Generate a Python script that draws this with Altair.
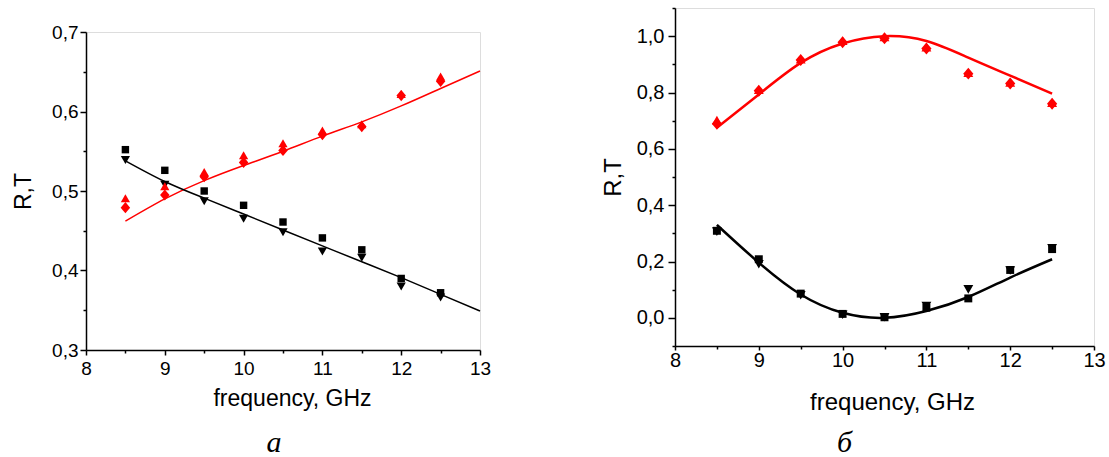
import altair as alt
import pandas as pd

# ---------------- data ----------------
freq = [8.5, 9.0, 9.5, 10.0, 10.5, 11.0, 11.5, 12.0, 12.5]
fit_freq_a = [8.5, 9.0, 9.5, 10.0, 10.5, 11.0, 11.5, 12.0, 12.5, 13.0]
fit_freq_b = [8.5, 9.0, 9.5, 10.0, 10.5, 11.0, 11.5, 12.0, 12.5]

# panel a
a_red_diamond = [0.479, 0.495, 0.518, 0.536, 0.551, 0.571, 0.581, 0.620, 0.638]
a_red_triangle = [0.491, 0.506, 0.524, 0.545, 0.560, 0.576, 0.584, 0.622, 0.644]
a_black_square = [0.552, 0.526, 0.500, 0.482, 0.461, 0.441, 0.426, 0.390, 0.372]
a_black_triangle = [0.539, 0.508, 0.487, 0.465, 0.448, 0.424, 0.416, 0.380, 0.366]
a_red_fit = [0.462, 0.490, 0.513, 0.532, 0.550, 0.569, 0.587, 0.607, 0.629, 0.651]
a_black_fit = [0.538, 0.512, 0.491, 0.471, 0.451, 0.431, 0.411, 0.391, 0.370, 0.349]

# panel b
b_red_diamond = [0.689, 0.806, 0.915, 0.978, 0.993, 0.956, 0.867, 0.832, 0.760]
b_red_triangle = [0.702, 0.810, 0.918, 0.984, 0.997, 0.961, 0.870, 0.836, 0.764]
b_black_square = [0.309, 0.208, 0.086, 0.014, 0.002, 0.036, 0.069, 0.170, 0.244]
b_black_triangle = [0.306, 0.190, 0.080, 0.011, 0.002, 0.042, 0.101, 0.168, 0.247]
b_red_fit = [0.675, 0.793, 0.905, 0.974, 1.000, 0.983, 0.924, 0.860, 0.796]
b_black_fit = [0.330, 0.196, 0.083, 0.018, 0.000, 0.024, 0.074, 0.143, 0.208]

# axis tick values
x_ticks = [8.0, 8.5, 9.0, 9.5, 10.0, 10.5, 11.0, 11.5, 12.0, 12.5, 13.0]
a_y_ticks = [0.3, 0.35, 0.4, 0.45, 0.5, 0.55, 0.6, 0.65, 0.7]
b_y_ticks = [-0.1, 0.0, 0.1, 0.2, 0.3, 0.4, 0.5, 0.6, 0.7, 0.8, 0.9, 1.0, 1.1]

x_title = "frequency, GHz"
y_title = "R,T"
panel_labels = ["а", "б"]

DIAMOND = "M0,-1L0.85,0L0,1L-0.85,0Z"
FONT = "Liberation Sans"


def long_df(xs, ys, name):
    return pd.DataFrame({"f": xs, "v": ys, "s": name})


def make_panel(points, fits, ydomain, yticks, ymajor_test, w, h, lab_size,
               title_size, line_w, xtitle_x, label, label_dx, label_offset,
               ylab_pad, xlab_pad, ytitle_pad, xtitle_pad, ymajor, xmajor, minor,
               mk):
    df = pd.concat(points + fits, ignore_index=True)
    xaxis = alt.Axis(
        values=x_ticks,
        title=x_title,
        labelExpr="datum.value % 1 === 0 ? format(datum.value, 'd') : ''",
        tickSize={"condition": {"test": "datum.value % 1 === 0", "value": xmajor}, "value": minor},
        labelPadding=xlab_pad,
        titlePadding=xtitle_pad,
        titleX=xtitle_x,
        labelFontSize=lab_size,
        titleFontSize=title_size,
        grid=False,
    )
    yaxis = alt.Axis(
        values=yticks,
        title=y_title,
        labelExpr="(" + ymajor_test + ") ? replace(format(datum.value, '.1f'), '.', ',') : ''",
        tickSize={"condition": {"test": ymajor_test, "value": ymajor}, "value": minor},
        labelPadding=ylab_pad,
        titlePadding=ytitle_pad,
        labelFontSize=lab_size,
        titleFontSize=title_size,
        grid=False,
    )
    base = alt.Chart(df).encode(
        x=alt.X("f:Q", scale=alt.Scale(domain=[8, 13], nice=False, zero=False), axis=xaxis),
        y=alt.Y("v:Q", scale=alt.Scale(domain=ydomain, nice=False, zero=False), axis=yaxis),
    )
    red_line = base.transform_filter(alt.datum.s == "red_fit").mark_line(
        color="#ff0000", strokeWidth=line_w, interpolate="natural")
    black_line = base.transform_filter(alt.datum.s == "black_fit").mark_line(
        color="#000000", strokeWidth=line_w, interpolate="natural")
    sq = base.transform_filter(alt.datum.s == "black_square").mark_point(
        shape="square", filled=True, color="#000000", opacity=1, size=55 * mk)
    tri_d = base.transform_filter(alt.datum.s == "black_triangle").mark_point(
        shape="triangle-down", filled=True, color="#000000", opacity=1, size=85 * mk)
    tri_u = base.transform_filter(alt.datum.s == "red_triangle").mark_point(
        shape="triangle-up", filled=True, color="#ff0000", opacity=1, size=85 * mk)
    dia = base.transform_filter(alt.datum.s == "red_diamond").mark_point(
        shape=DIAMOND, filled=True, color="#ff0000", opacity=1, size=125 * mk)
    chart = alt.layer(red_line, black_line, sq, tri_d, tri_u, dia).properties(
        width=w, height=h,
        title=alt.TitleParams(
            label, orient="bottom", font="Liberation Serif", fontStyle="italic",
            fontWeight="normal", fontSize=30, color="#000000", frame="group",
            anchor="middle", dx=label_dx, offset=label_offset,
        ),
    )
    return chart


panel_a = make_panel(
    [long_df(freq, a_red_diamond, "red_diamond"),
     long_df(freq, a_red_triangle, "red_triangle"),
     long_df(freq, a_black_square, "black_square"),
     long_df(freq, a_black_triangle, "black_triangle")],
    [long_df(fit_freq_a, a_red_fit, "red_fit"),
     long_df(fit_freq_a, a_black_fit, "black_fit")],
    [0.3, 0.7], a_y_ticks, "abs(round(datum.value * 20)) % 2 === 0",
    394, 318, 19, 23, 1.5, 206, panel_labels[0], -9, 18,
    2, 4, 16, 9, 6, 5, 3, 1.0,
)

panel_b = make_panel(
    [long_df(freq, b_red_diamond, "red_diamond"),
     long_df(freq, b_red_triangle, "red_triangle"),
     long_df(freq, b_black_square, "black_square"),
     long_df(freq, b_black_triangle, "black_triangle")],
    [long_df(fit_freq_b, b_red_fit, "red_fit"),
     long_df(fit_freq_b, b_black_fit, "black_fit")],
    [-0.1, 1.1], b_y_ticks, "abs(round(datum.value * 10)) % 2 === 0",
    419, 338, 20, 24, 2.5, 217, panel_labels[1], -40, 14,
    4, 0, 11, 20, 7, 4, 3, 1.15,
)

spacer = alt.Chart(pd.DataFrame({"s": [0]})).mark_point(opacity=0).properties(width=10, height=14)

left = alt.vconcat(spacer, panel_a, spacing=0)

chart = alt.hconcat(left, panel_b, spacing=108).properties(
    padding={"left": 12, "top": -3, "right": 0, "bottom": 0},
).configure_view(stroke=None).configure(
    font=FONT,
).configure_axis(
    domainColor="#000000", domainWidth=1.5, tickColor="#000000", tickWidth=1.5,
    labelFont=FONT, labelColor="#000000",
    titleFont=FONT, titleFontWeight="normal", titleColor="#000000",
    labelFlush=False, labelOverlap=False,
)

chart.save("out.html", embed_options={"renderer": "svg", "actions": False})
